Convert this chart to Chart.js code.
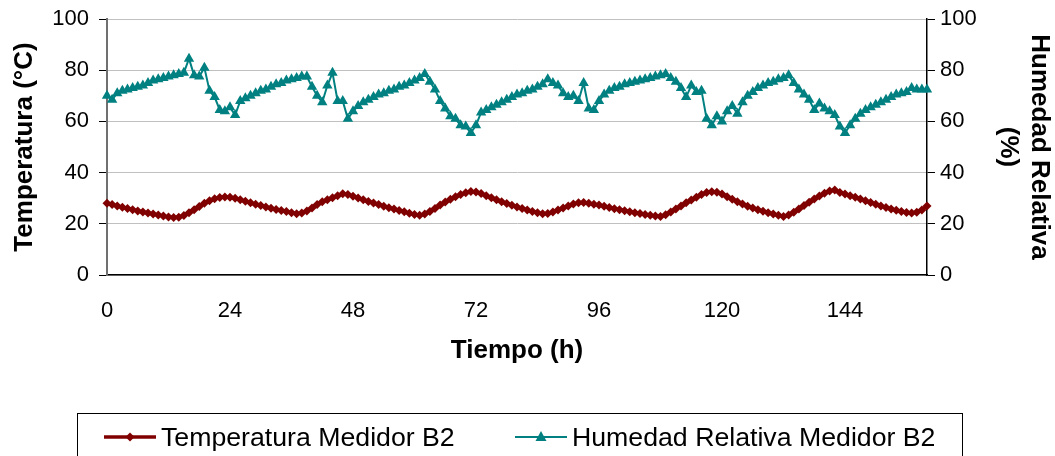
<!DOCTYPE html>
<html>
<head>
<meta charset="utf-8">
<script src="https://cdn.jsdelivr.net/npm/chart.js@4.4.1/dist/chart.umd.min.js"></script>
<style>
  html, body { margin: 0; padding: 0; background: #fff; }
  canvas { display: block; }
</style>
</head>
<body>
<canvas id="chart" width="1055" height="456"></canvas>
<script>
// Data (hourly readings)
const hours = [
  0, 1, 2, 3, 4, 5, 6, 7, 8, 9, 10, 11, 12, 13, 14, 15, 16, 17, 18, 19,
  20, 21, 22, 23, 24, 25, 26, 27, 28, 29, 30, 31, 32, 33, 34, 35, 36, 37, 38, 39,
  40, 41, 42, 43, 44, 45, 46, 47, 48, 49, 50, 51, 52, 53, 54, 55, 56, 57, 58, 59,
  60, 61, 62, 63, 64, 65, 66, 67, 68, 69, 70, 71, 72, 73, 74, 75, 76, 77, 78, 79,
  80, 81, 82, 83, 84, 85, 86, 87, 88, 89, 90, 91, 92, 93, 94, 95, 96, 97, 98, 99,
  100, 101, 102, 103, 104, 105, 106, 107, 108, 109, 110, 111, 112, 113, 114, 115, 116, 117, 118, 119,
  120, 121, 122, 123, 124, 125, 126, 127, 128, 129, 130, 131, 132, 133, 134, 135, 136, 137, 138, 139,
  140, 141, 142, 143, 144, 145, 146, 147, 148, 149, 150, 151, 152, 153, 154, 155, 156, 157, 158, 159,
  160
];

const temperature = [
  28.0, 27.5, 27.0, 26.5, 26.0, 25.5, 25.0, 24.6, 24.2, 23.8, 23.4, 23.0, 22.7, 22.5, 22.6, 23.2, 24.3, 25.5, 26.8, 28.0,
  29.0, 29.8, 30.3, 30.5, 30.4, 30.0, 29.4, 28.8, 28.2, 27.6, 27.1, 26.6, 26.1, 25.6, 25.2, 24.8, 24.3, 23.9, 24.2, 25.0,
  26.2, 27.5, 28.6, 29.4, 30.2, 31.0, 31.7, 31.4, 30.8, 30.1, 29.4, 28.7, 28.1, 27.5, 26.9, 26.3, 25.8, 25.2, 24.7, 24.1,
  23.6, 23.3, 23.8, 24.8, 26.0, 27.3, 28.5, 29.6, 30.6, 31.4, 32.1, 32.6, 32.4, 31.8, 31.0, 30.2, 29.4, 28.6, 27.9, 27.2,
  26.6, 26.0, 25.4, 24.8, 24.3, 23.9, 24.0, 24.6, 25.4, 26.2, 27.0, 27.7, 28.2, 28.3, 28.0, 27.6, 27.3, 26.9, 26.4, 25.9,
  25.5, 25.1, 24.7, 24.3, 24.0, 23.6, 23.3, 23.0, 22.9, 23.5, 24.6, 25.8, 27.0, 28.2, 29.3, 30.4, 31.4, 32.2, 32.5, 32.3,
  31.6, 30.6, 29.6, 28.6, 27.7, 26.9, 26.2, 25.5, 24.9, 24.3, 23.8, 23.3, 22.9, 23.4, 24.5, 25.8, 27.1, 28.4, 29.7, 30.9,
  31.9, 32.8, 33.2, 32.2, 31.6, 31.0, 30.4, 29.7, 29.0, 28.3, 27.6, 27.0, 26.4, 25.8, 25.3, 24.8, 24.4, 24.2, 24.5, 25.4,
  27.0
];

const humidity = [
  70, 68.5, 71, 72, 72.5, 73, 73.5, 74, 75, 76, 76.5, 77, 77.5, 78, 78.5, 79, 84.5, 78, 77.5, 81,
  72, 69.5, 64.5, 64, 65.5, 62.5, 68, 69, 70, 71, 72, 72.5, 73.5, 74.5, 75, 76, 76.5, 77, 77.5, 77.5,
  73.5, 70, 67.5, 74, 79, 68, 68, 61, 64, 66, 67.5, 68.5, 69.5, 70.5, 71, 72, 72.5, 73.5, 74, 75,
  76, 77, 78.5, 75.5, 72.5, 68, 65, 62, 61, 58.5, 58, 55.5, 58.5, 63.5, 64.5, 65.5, 66.5, 67.5, 68.5, 69.5,
  70.5, 71, 72, 72.5, 73.5, 74.5, 76.5, 75, 74, 71, 69.5, 70, 68, 75, 65, 64.5, 68, 70.5, 72, 73,
  73.5, 74.5, 75, 75.5, 76, 76.5, 77, 77.5, 78, 78.5, 77, 75.5, 73, 69.5, 74, 71.5, 72, 61, 58.5, 62,
  60, 64, 66, 63, 67.5, 70, 71.5, 73, 74, 75, 75.5, 76.5, 77, 78, 75, 72.5, 70.5, 68.5, 64.5, 67,
  65, 64, 62.5, 58, 55.5, 58.5, 61, 63, 64.5, 65.5, 66.5, 67.5, 68.5, 69.5, 70.5, 71, 71.5, 73, 72.5, 72.5,
  72.5
];

const xTicks = [0, 24, 48, 72, 96, 120, 144];
const yTicks = [0, 20, 40, 60, 80, 100];
const seriesNames = ['Temperatura Medidor B2', 'Humedad Relativa Medidor B2'];
const seriesColors = ['#800000', '#008080'];

const FONT = '"Liberation Sans", Arial, sans-serif';
Chart.defaults.font.family = FONT;
Chart.defaults.color = '#000';

// Excel-style legend: boxed, line sample with marker in the middle
const boxLegend = {
  id: 'boxLegend',
  afterDraw(chart) {
    const ctx = chart.ctx;
    const y = 437;
    ctx.save();
    ctx.strokeStyle = '#000';
    ctx.lineWidth = 1;
    ctx.strokeRect(77.5, 413.5, 885, 60);

    const starts = [104, 515];
    chart.data.datasets.forEach((ds, i) => {
      const x0 = starts[i];
      const cx = x0 + 26;
      ctx.strokeStyle = ds.borderColor;
      ctx.lineWidth = ds.borderWidth;
      ctx.beginPath();
      ctx.moveTo(x0, y);
      ctx.lineTo(x0 + 52, y);
      ctx.stroke();

      ctx.fillStyle = ds.borderColor;
      ctx.beginPath();
      if (ds.pointStyle === 'triangle') {
        ctx.moveTo(cx, y - 6);
        ctx.lineTo(cx + 5.5, y + 4);
        ctx.lineTo(cx - 5.5, y + 4);
      } else {
        ctx.moveTo(cx, y - 4.5);
        ctx.lineTo(cx + 4.5, y);
        ctx.lineTo(cx, y + 4.5);
        ctx.lineTo(cx - 4.5, y);
      }
      ctx.closePath();
      ctx.fill();

      ctx.fillStyle = '#000';
      ctx.font = '26.7px ' + FONT;
      ctx.textBaseline = 'alphabetic';
      ctx.textAlign = 'left';
      ctx.fillText(ds.label, x0 + 57, 446);
    });
    ctx.restore();
  }
};

// keep the tick label padding from pushing the plot area down
const trimPadding = (scale) => { scale.paddingTop = 10; scale.paddingBottom = 10; };

const ctx = document.getElementById('chart').getContext('2d');
new Chart(ctx, {
  type: 'line',
  data: {
    datasets: [{
      label: seriesNames[0],
      data: hours.map((h, i) => ({ x: h, y: temperature[i] })),
      borderColor: seriesColors[0],
      backgroundColor: seriesColors[0],
      borderWidth: 3.5,
      pointStyle: 'rectRot',
      pointRadius: 4.5,
      pointBorderWidth: 0,
      yAxisID: 'y',
      clip: false
    }, {
      label: seriesNames[1],
      data: hours.map((h, i) => ({ x: h, y: humidity[i] })),
      borderColor: seriesColors[1],
      backgroundColor: seriesColors[1],
      borderWidth: 2,
      pointStyle: 'triangle',
      pointRadius: 6,
      pointBorderWidth: 0,
      yAxisID: 'y2',
      clip: false
    }]
  },
  options: {
    responsive: false,
    animation: false,
    layout: { padding: { top: 19, left: 0, right: 0, bottom: 89.4 } },
    plugins: {
      legend: { display: false },
      tooltip: { enabled: false }
    },
    scales: {
      x: {
        type: 'linear',
        min: 0,
        max: 160,
        afterBuildTicks: (scale) => { scale.ticks = xTicks.map(v => ({ value: v })); },
        afterFit: (scale) => { scale.height = 91.6; },
        ticks: { font: { size: 22 }, padding: 23, color: '#000', maxRotation: 0 },
        grid: { display: false, drawTicks: false },
        border: { display: true, color: '#000', width: 1.5 },
        title: {
          display: true,
          text: 'Tiempo (h)',
          font: { size: 26, weight: 'bold' },
          padding: { top: 0, bottom: 0 },
          color: '#000'
        }
      },
      y: {
        position: 'left',
        min: 0,
        max: 100,
        afterBuildTicks: (scale) => { scale.ticks = yTicks.map(v => ({ value: v })); },
        afterFit: (scale) => { scale.width = 107; trimPadding(scale); },
        ticks: { font: { size: 22 }, padding: 10, color: '#000' },
        grid: { color: '#c0c0c0', lineWidth: 1, tickColor: '#000', tickLength: 8, drawTicks: true },
        border: { display: true, color: '#707070', width: 2 },
        title: {
          display: true,
          text: 'Temperatura (°C)',
          font: { size: 26, weight: 'bold' },
          padding: { top: 9, bottom: 0 },
          color: '#000'
        }
      },
      y2: {
        position: 'right',
        min: 0,
        max: 100,
        afterBuildTicks: (scale) => { scale.ticks = yTicks.map(v => ({ value: v })); },
        afterFit: (scale) => { scale.width = 128; trimPadding(scale); },
        ticks: { font: { size: 22 }, padding: 5, color: '#000' },
        grid: { drawOnChartArea: false, tickColor: '#000', tickLength: 8, drawTicks: true },
        border: { display: true, color: '#000', width: 1.5 },
        title: {
          display: true,
          text: ['Humedad Relativa', '(%)'],
          font: { size: 26, weight: 'bold' },
          padding: { top: 0, bottom: 0 },
          color: '#000'
        }
      }
    }
  },
  plugins: [boxLegend]
});
</script>
</body>
</html>
